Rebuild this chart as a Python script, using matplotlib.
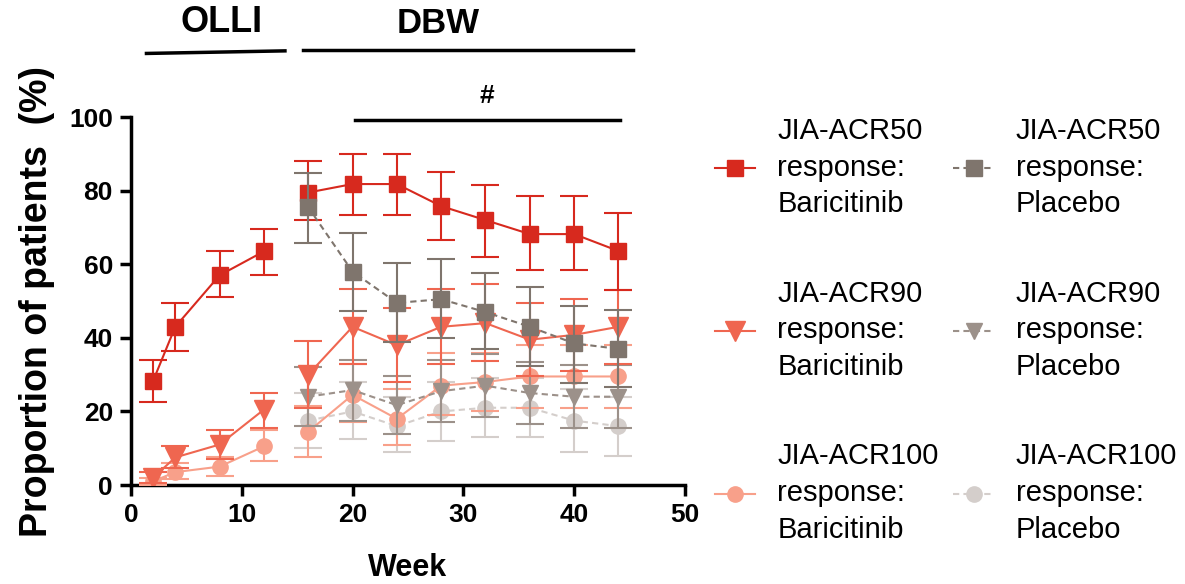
import matplotlib
matplotlib.use('Agg')
import matplotlib.pyplot as plt
from matplotlib.lines import Line2D
import numpy as np

plt.rcParams['font.family'] = ['Liberation Sans', 'DejaVu Sans']

weeks_bar = [2, 4, 8, 12, 16, 20, 24, 28, 32, 36, 40, 44]
weeks_pla = [16, 20, 24, 28, 32, 36, 40, 44]

# baricitinib (OLLI weeks 2-12 then DBW weeks 16-44)
acr50_bar = [28.3, 43, 57, 63.5, 79.5, 81.8, 81.8, 75.8, 72, 68.2, 68.2, 63.6]
acr50_bar_lo = [22.5, 36.5, 51, 57, 72, 73.5, 73.5, 66.5, 62, 58.5, 58.5, 53]
acr50_bar_hi = [34, 49.5, 63.5, 69.5, 88, 90, 90, 85, 81.5, 78.5, 78.5, 74]

acr90_bar = [2, 7.5, 11, 20.5, 30, 43, 38, 43, 44, 39.5, 40.8, 43]
acr90_bar_lo = [0.5, 4.5, 7, 15.5, 21, 33, 28, 33, 33.7, 29.5, 31, 33]
acr90_bar_hi = [3.5, 10.5, 15, 25.1, 39.1, 53.3, 48, 53.3, 54.6, 49.5, 50.5, 53]

acr100_bar = [1, 3.5, 5, 10.5, 14.5, 24.5, 18, 27, 28, 29.5, 29.5, 29.5]
acr100_bar_lo = [0, 1.5, 2.5, 6.5, 7.5, 17, 11, 19, 20, 21, 21, 21]
acr100_bar_hi = [2, 6, 7.5, 15, 21.5, 33, 26, 36, 36, 38, 38, 38]

# placebo (DBW only)
acr50_pla = [75.5, 58, 49.5, 50.5, 47, 43, 38.5, 37]
acr50_pla_lo = [65.8, 47.3, 39, 40, 37, 32.3, 27.8, 26.6]
acr50_pla_hi = [84.8, 68.6, 60.3, 61.4, 57.6, 53.9, 48.7, 47.5]

acr90_pla = [24, 25.8, 21.7, 25.5, 27, 25, 24, 24]
acr90_pla_lo = [16, 17.5, 14, 17, 18.5, 16.5, 15.5, 15.5]
acr90_pla_hi = [32, 34, 29.5, 34, 35.5, 33.5, 32.5, 32.5]

acr100_pla = [17.5, 20, 16, 20, 21, 21, 17.5, 16]
acr100_pla_lo = [10, 12.5, 9, 12, 13, 13, 9, 8]
acr100_pla_hi = [25, 28, 24, 28, 29, 29, 26, 24]

c50b = '#d7291e'
c90b = '#ef6650'
c100b = '#f8a08a'
c50p = '#7f756d'
c90p = '#9c918a'
c100p = '#d4cecb'

fig = plt.figure(figsize=(11.85, 5.84), dpi=100)
ax = fig.add_axes([0.1105, 0.1695, 0.4675, 0.630])

dash = (0, (3, 2))


def series(x, y, lo, hi, color, marker, ms, ls, z, split=False):
    y = np.array(y)
    err = [y - np.array(lo), np.array(hi) - y]
    x = np.array(x)
    if split:
        # OLLI and DBW are separate line segments
        idx = [slice(0, 4), slice(4, None)]
    else:
        idx = [slice(None)]
    for s in idx:
        ax.errorbar(x[s], y[s], yerr=[err[0][s], err[1][s]], color=color,
                    marker=marker, markersize=ms, linestyle=ls, linewidth=1.5,
                    elinewidth=1.5, capsize=10, capthick=1.5, zorder=z)
    return Line2D([], [], color=color, marker=marker, markersize=ms,
                  linestyle=ls, linewidth=1.5)


h1 = series(weeks_pla, acr100_pla, acr100_pla_lo, acr100_pla_hi, c100p, 'o', 11, dash, 3)
h4 = series(weeks_bar, acr100_bar, acr100_bar_lo, acr100_bar_hi, c100b, 'o', 11, '-', 4, split=True)
h2 = series(weeks_pla, acr90_pla, acr90_pla_lo, acr90_pla_hi, c90p, 'v', 12, dash, 5)
h5 = series(weeks_bar, acr90_bar, acr90_bar_lo, acr90_bar_hi, c90b, 'v', 14, '-', 6, split=True)
h6 = series(weeks_bar, acr50_bar, acr50_bar_lo, acr50_bar_hi, c50b, 's', 11, '-', 7, split=True)
h3 = series(weeks_pla, acr50_pla, acr50_pla_lo, acr50_pla_hi, c50p, 's', 11, dash, 8)

ax.set_xlim(0, 50)
ax.set_ylim(0, 100)
ax.set_xticks([0, 10, 20, 30, 40, 50])
ax.set_yticks([0, 20, 40, 60, 80, 100])
for s in ['top', 'right']:
    ax.spines[s].set_visible(False)
for s in ['left', 'bottom']:
    ax.spines[s].set_linewidth(2.5)
ax.tick_params(width=2.5, length=8, pad=5)
for lab in ax.get_xticklabels() + ax.get_yticklabels():
    lab.set_fontweight('bold')
    lab.set_fontsize(19)

ax.set_xlabel('Week', fontsize=22, fontweight='bold', labelpad=19)
ax.set_ylabel('Proportion of patients  (%)', fontsize=27, fontweight='bold', labelpad=10)

# period bars above the plot
ax.plot([1.4, 13.9], [117.3, 118], color='black', lw=2.5, clip_on=False)
ax.plot([15.5, 45.3], [118.3, 118.3], color='black', lw=2.5, clip_on=False)
ax.plot([20.2, 44.1], [99.3, 99.3], color='black', lw=2.5, clip_on=False)
ax.text(8.2, 121, 'OLLI', ha='center', va='bottom', fontsize=26, fontweight='bold')
ax.text(27.7, 121, 'DBW', ha='center', va='bottom', fontsize=25, fontweight='bold')
ax.text(32.1, 102.5, '#', ha='center', va='bottom', fontsize=19, fontweight='bold')

handles = [h6, h5, h4, h3, h2, h1]
labels = ['JIA-ACR50\nresponse:\nBaricitinib', 'JIA-ACR90\nresponse:\nBaricitinib',
          'JIA-ACR100\nresponse:\nBaricitinib', 'JIA-ACR50\nresponse:\nPlacebo',
          'JIA-ACR90\nresponse:\nPlacebo', 'JIA-ACR100\nresponse:\nPlacebo']
leg = fig.legend(handles, labels, ncol=2, loc='upper left', bbox_to_anchor=(0.603, 0.80),
                 frameon=False, fontsize=21, labelspacing=2.1, columnspacing=0.5,
                 handlelength=1.4, handletextpad=0.75, borderaxespad=0, borderpad=0)
for t in leg.get_texts():
    t.set_linespacing(1.4)

fig.savefig('out.png', dpi=100)
